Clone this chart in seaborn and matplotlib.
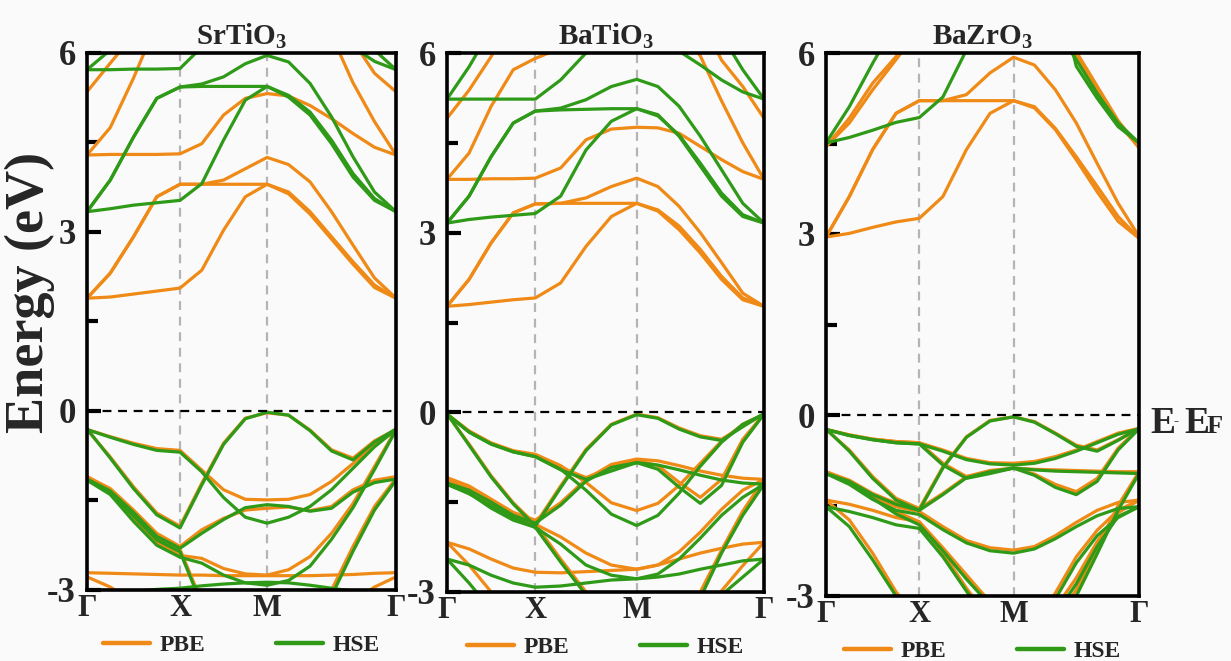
import numpy as np
import pandas as pd
import matplotlib
matplotlib.use("Agg")
import matplotlib.pyplot as plt
import seaborn as sns
from matplotlib.lines import Line2D

# ---------------- data ----------------
MATERIALS = ["SrTiO$_\\mathbf{3}$", "BaTiO$_\\mathbf{3}$", "BaZrO$_\\mathbf{3}$"]
KLABELS = ["Γ", "X", "M", "Γ"]
YTICKS = [-3, 0, 3, 6]
YTICKLABELS = ["-3", "0", "3", "6"]
METHODS = ["PBE", "HSE"]

# k-path node positions (Γ, X, M, Γ) for each panel
STO_NODES = [0.0, 0.5, 0.968, 1.661]
BTO_NODES = [0.0, 0.5, 1.074, 1.795]
BZO_NODES = [0.0, 0.5, 1.005, 1.677]

# energies (eV) sampled at: Γ, 3 pts, X, 3 pts, M, 5 pts, Γ
STO_PBE_CB = [
    [1.89, 1.91, 1.96, 2.01, 2.06, 2.36, 3.03, 3.59, 3.80, 3.67, 3.34, 2.92, 2.50, 2.11, 1.89],
    [1.89, 2.31, 2.92, 3.59, 3.80, 3.80, 3.80, 3.80, 3.80, 3.64, 3.30, 2.88, 2.46, 2.07, 1.89],
    [1.89, 2.31, 2.92, 3.59, 3.80, 3.80, 3.87, 4.06, 4.25, 4.13, 3.84, 3.34, 2.78, 2.23, 1.89],
    [4.29, 4.30, 4.30, 4.30, 4.31, 4.48, 4.96, 5.24, 5.32, 5.28, 5.12, 4.90, 4.65, 4.42, 4.29],
    [4.29, 4.75, 5.58, 6.50, 7.00, 7.50, 7.80, 8.00, 8.00, 7.80, 7.20, 6.30, 5.50, 4.85, 4.29],
    [5.35, 5.83, 6.30, 7.00, 7.40, 7.60, 7.80, 8.00, 8.00, 7.80, 7.40, 6.90, 6.20, 5.66, 5.35],
]
STO_HSE_CB = [
    [3.34, 3.39, 3.45, 3.49, 3.53, 3.81, 4.54, 5.21, 5.44, 5.29, 5.01, 4.54, 3.98, 3.56, 3.34],
    [3.34, 3.87, 4.59, 5.24, 5.43, 5.44, 5.44, 5.44, 5.44, 5.26, 4.96, 4.48, 3.92, 3.53, 3.34],
    [3.34, 3.87, 4.59, 5.24, 5.43, 5.48, 5.60, 5.82, 5.96, 5.85, 5.49, 4.93, 4.26, 3.67, 3.34],
    [5.72, 5.72, 5.73, 5.73, 5.74, 6.10, 6.60, 7.00, 7.20, 7.00, 6.60, 6.30, 6.10, 5.86, 5.72],
    [5.72, 6.05, 6.60, 7.20, 7.60, 7.80, 8.00, 8.00, 8.00, 8.00, 7.80, 7.20, 6.60, 6.05, 5.72],
]
STO_PBE_VB = [
    [-0.31, -0.43, -0.54, -0.63, -0.66, -0.99, -1.32, -1.48, -1.49, -1.48, -1.40, -1.18, -0.88, -0.57, -0.31],
    [-0.31, -0.77, -1.27, -1.71, -1.93, -1.21, -0.54, -0.12, -0.03, -0.07, -0.32, -0.65, -0.79, -0.50, -0.31],
    [-1.10, -1.30, -1.66, -2.05, -2.27, -1.99, -1.80, -1.66, -1.63, -1.61, -1.67, -1.60, -1.32, -1.16, -1.10],
    [-1.10, -1.35, -1.80, -2.20, -2.42, -2.47, -2.64, -2.73, -2.75, -2.66, -2.44, -2.05, -1.55, -0.93, -0.31],
    [-2.71, -2.72, -2.73, -2.74, -2.75, -2.75, -2.76, -2.76, -2.76, -2.76, -2.76, -2.75, -2.74, -2.72, -2.71],
    [-2.78, -2.95, -3.20, -3.45, -3.60, -3.80, -3.90, -4.00, -4.00, -4.00, -3.80, -3.50, -3.20, -2.95, -2.78],
    [-1.10, -1.32, -1.72, -2.12, -2.32, -3.20, -3.80, -4.00, -4.00, -4.00, -3.80, -3.00, -2.27, -1.60, -1.13],
]
STO_HSE_VB = [
    [-0.31, -0.44, -0.56, -0.66, -0.69, -1.02, -1.45, -1.78, -1.88, -1.78, -1.60, -1.32, -0.96, -0.60, -0.31],
    [-0.30, -0.79, -1.30, -1.74, -1.96, -1.24, -0.56, -0.13, -0.02, -0.07, -0.33, -0.67, -0.82, -0.52, -0.30],
    [-1.14, -1.34, -1.70, -2.10, -2.30, -2.05, -1.82, -1.62, -1.57, -1.60, -1.68, -1.63, -1.36, -1.20, -1.14],
    [-1.16, -1.40, -1.85, -2.25, -2.45, -2.55, -2.75, -2.88, -2.92, -2.84, -2.60, -2.15, -1.62, -0.98, -0.32],
    [-3.05, -3.04, -3.02, -2.99, -2.97, -2.93, -2.90, -2.88, -2.87, -2.88, -2.92, -2.97, -3.02, -3.05, -3.06],
    [-1.16, -1.36, -1.76, -2.16, -2.36, -3.25, -3.85, -4.00, -4.00, -4.00, -3.90, -3.10, -2.35, -1.66, -1.16],
]

BTO_PBE_CB = [
    [1.77, 1.80, 1.84, 1.88, 1.91, 2.16, 2.77, 3.27, 3.49, 3.38, 3.11, 2.72, 2.27, 1.91, 1.77],
    [1.77, 2.22, 2.83, 3.33, 3.48, 3.49, 3.49, 3.49, 3.49, 3.36, 3.05, 2.66, 2.22, 1.88, 1.77],
    [1.77, 2.22, 2.83, 3.33, 3.48, 3.49, 3.58, 3.77, 3.91, 3.77, 3.44, 3.00, 2.50, 1.99, 1.77],
    [3.89, 3.89, 3.90, 3.90, 3.91, 4.08, 4.55, 4.73, 4.76, 4.75, 4.66, 4.44, 4.22, 4.02, 3.89],
    [3.89, 4.33, 5.11, 5.72, 5.91, 6.08, 6.40, 6.80, 7.20, 6.80, 6.40, 5.95, 5.20, 4.50, 3.89],
    [4.91, 5.38, 5.94, 6.60, 7.00, 7.30, 7.60, 7.80, 8.00, 7.80, 7.40, 6.60, 5.88, 5.44, 4.91],
]
BTO_HSE_CB = [
    [3.16, 3.22, 3.26, 3.29, 3.32, 3.61, 4.38, 4.86, 5.07, 4.97, 4.61, 4.11, 3.61, 3.27, 3.16],
    [3.16, 3.61, 4.27, 4.83, 5.03, 5.05, 5.06, 5.07, 5.07, 4.95, 4.63, 4.16, 3.66, 3.30, 3.16],
    [3.16, 3.61, 4.27, 4.83, 5.03, 5.08, 5.22, 5.44, 5.56, 5.44, 5.11, 4.61, 4.05, 3.49, 3.16],
    [5.23, 5.23, 5.23, 5.23, 5.23, 5.55, 6.00, 6.50, 6.80, 6.40, 6.03, 5.80, 5.55, 5.35, 5.23],
    [5.23, 5.77, 6.40, 7.00, 7.40, 7.60, 7.80, 8.00, 8.00, 8.00, 7.60, 7.00, 6.30, 5.72, 5.23],
]
BTO_PBE_VB = [
    [-0.03, -0.31, -0.51, -0.64, -0.70, -0.89, -1.17, -1.51, -1.64, -1.52, -1.22, -0.85, -0.48, -0.20, -0.03],
    [-0.03, -0.53, -1.06, -1.51, -1.87, -1.23, -0.62, -0.20, -0.03, -0.09, -0.26, -0.39, -0.45, -0.23, -0.03],
    [-1.09, -1.23, -1.45, -1.67, -1.80, -1.51, -1.12, -0.87, -0.78, -0.81, -0.89, -0.98, -1.05, -1.10, -1.12],
    [-1.12, -1.28, -1.52, -1.75, -1.87, -2.08, -2.35, -2.55, -2.62, -2.55, -2.33, -2.00, -1.62, -1.30, -1.12],
    [-0.03, -0.32, -0.52, -0.65, -0.72, -0.92, -1.09, -0.92, -0.80, -0.89, -1.17, -1.42, -1.12, -0.45, -0.03],
    [-2.17, -2.28, -2.45, -2.60, -2.67, -2.68, -2.66, -2.64, -2.62, -2.55, -2.45, -2.35, -2.27, -2.20, -2.17],
    [-2.17, -2.55, -3.00, -3.40, -3.60, -3.80, -3.90, -4.00, -4.00, -4.00, -3.80, -3.50, -2.98, -2.56, -2.17],
    [-1.12, -1.30, -1.50, -1.72, -1.87, -2.45, -3.00, -3.50, -3.80, -3.70, -3.40, -3.00, -2.30, -1.65, -1.12],
]
BTO_HSE_VB = [
    [-0.03, -0.33, -0.53, -0.66, -0.74, -0.95, -1.30, -1.70, -1.89, -1.72, -1.35, -0.90, -0.50, -0.20, -0.03],
    [-0.02, -0.55, -1.08, -1.53, -1.90, -1.26, -0.64, -0.21, -0.04, -0.10, -0.28, -0.41, -0.47, -0.24, -0.02],
    [-1.18, -1.30, -1.50, -1.72, -1.85, -1.55, -1.15, -0.92, -0.84, -0.88, -0.96, -1.05, -1.13, -1.18, -1.20],
    [-1.20, -1.35, -1.60, -1.80, -1.92, -2.20, -2.55, -2.72, -2.78, -2.70, -2.45, -2.10, -1.72, -1.42, -1.20],
    [-0.03, -0.33, -0.53, -0.66, -0.74, -0.96, -1.12, -0.98, -0.84, -0.95, -1.25, -1.52, -1.22, -0.50, -0.03],
    [-2.45, -2.55, -2.72, -2.85, -2.92, -2.90, -2.85, -2.80, -2.78, -2.75, -2.70, -2.62, -2.55, -2.48, -2.45],
    [-2.45, -2.85, -3.30, -3.60, -3.80, -4.00, -4.00, -4.00, -4.00, -4.00, -3.80, -3.40, -3.05, -2.75, -2.45],
    [-1.20, -1.36, -1.56, -1.76, -1.92, -2.50, -3.05, -3.50, -3.80, -3.70, -3.45, -3.10, -2.35, -1.72, -1.20],
]

BZO_PBE_CB = [
    [2.95, 3.01, 3.11, 3.20, 3.26, 3.62, 4.40, 5.00, 5.21, 5.11, 4.75, 4.28, 3.79, 3.29, 2.93],
    [2.95, 3.62, 4.40, 5.00, 5.21, 5.21, 5.21, 5.21, 5.21, 5.09, 4.73, 4.23, 3.70, 3.21, 2.93],
    [2.95, 3.62, 4.40, 5.00, 5.21, 5.21, 5.31, 5.67, 5.93, 5.80, 5.39, 4.84, 4.17, 3.51, 2.96],
    [4.45, 4.84, 5.39, 5.89, 6.40, 6.90, 7.30, 7.60, 7.80, 7.50, 7.00, 5.94, 5.39, 4.84, 4.43],
    [4.45, 4.92, 5.50, 5.94, 6.50, 7.00, 7.40, 7.70, 7.90, 7.60, 7.10, 6.02, 5.45, 4.88, 4.43],
]
BZO_HSE_CB = [
    [4.51, 4.60, 4.72, 4.85, 4.93, 5.27, 6.05, 6.80, 7.20, 6.90, 6.40, 5.89, 5.33, 4.84, 4.51],
    [4.51, 5.11, 5.83, 6.50, 7.00, 7.30, 7.60, 7.80, 8.00, 7.80, 7.20, 5.78, 5.25, 4.78, 4.51],
]
BZO_PBE_VB = [
    [-0.24, -0.33, -0.40, -0.44, -0.46, -0.58, -0.72, -0.79, -0.80, -0.77, -0.69, -0.58, -0.44, -0.30, -0.22],
    [-0.24, -0.58, -1.02, -1.38, -1.55, -0.86, -0.36, -0.09, -0.03, -0.11, -0.30, -0.50, -0.58, -0.41, -0.22],
    [-0.24, -0.33, -0.40, -0.44, -0.46, -0.80, -1.02, -0.95, -0.88, -0.98, -1.15, -1.27, -1.05, -0.55, -0.22],
    [-0.94, -1.08, -1.30, -1.46, -1.55, -1.30, -1.02, -0.92, -0.88, -0.90, -0.91, -0.92, -0.93, -0.94, -0.94],
    [-0.94, -1.12, -1.35, -1.52, -1.60, -1.85, -2.08, -2.20, -2.24, -2.18, -2.00, -1.78, -1.58, -1.45, -1.41],
    [-1.41, -1.48, -1.58, -1.70, -1.77, -2.29, -2.87, -3.40, -3.80, -3.50, -2.95, -2.35, -1.91, -1.58, -1.41],
    [-1.41, -1.74, -2.29, -2.93, -3.40, -3.80, -4.00, -4.00, -4.00, -3.80, -3.40, -2.90, -2.20, -1.50, -0.94],
    [-0.94, -1.10, -1.35, -1.60, -1.77, -2.20, -2.65, -3.10, -3.70, -3.60, -3.20, -2.70, -2.10, -1.62, -1.41],
]
BZO_HSE_VB = [
    [-0.24, -0.34, -0.41, -0.46, -0.48, -0.60, -0.74, -0.81, -0.83, -0.80, -0.72, -0.60, -0.46, -0.32, -0.23],
    [-0.23, -0.60, -1.05, -1.41, -1.58, -0.88, -0.37, -0.10, -0.03, -0.12, -0.31, -0.52, -0.60, -0.42, -0.22],
    [-0.24, -0.34, -0.41, -0.46, -0.48, -0.83, -1.05, -0.97, -0.88, -1.00, -1.20, -1.32, -1.10, -0.58, -0.23],
    [-0.97, -1.10, -1.32, -1.48, -1.58, -1.32, -1.04, -0.94, -0.88, -0.91, -0.93, -0.94, -0.95, -0.96, -0.97],
    [-0.97, -1.15, -1.40, -1.58, -1.65, -1.90, -2.12, -2.25, -2.29, -2.22, -2.05, -1.85, -1.67, -1.55, -1.52],
    [-1.52, -1.60, -1.70, -1.82, -1.88, -2.35, -2.92, -3.45, -3.80, -3.55, -3.05, -2.45, -2.00, -1.70, -1.52],
    [-1.52, -1.85, -2.40, -3.00, -3.50, -3.90, -4.00, -4.00, -4.00, -3.90, -3.50, -3.00, -2.30, -1.58, -0.97],
    [-0.97, -1.12, -1.38, -1.64, -1.82, -2.25, -2.72, -3.15, -3.70, -3.65, -3.30, -2.80, -2.18, -1.68, -1.52],
]

PANELS = [
    (STO_NODES, STO_PBE_CB + STO_PBE_VB, STO_HSE_CB + STO_HSE_VB),
    (BTO_NODES, BTO_PBE_CB + BTO_PBE_VB, BTO_HSE_CB + BTO_HSE_VB),
    (BZO_NODES, BZO_PBE_CB + BZO_PBE_VB, BZO_HSE_CB + BZO_HSE_VB),
]

# ---------------- style ----------------
ORANGE = "#F08A16"
GREEN = "#2E9A18"
BG = "#FAFAFA"
PALETTE = {"PBE": ORANGE, "HSE": GREEN}

sns.set_theme(style="white")
plt.rcParams["font.family"] = ["Liberation Serif", "DejaVu Serif"]
plt.rcParams["mathtext.fontset"] = "custom"
plt.rcParams["mathtext.rm"] = "Liberation Serif"
plt.rcParams["mathtext.bf"] = "Liberation Serif:bold"

fig = plt.figure(figsize=(12.31, 6.61), dpi=100, facecolor=BG)
W, H = 1231.0, 661.0
# axes boxes in pixels: left, right, top, bottom
BOXES = [(87, 396, 53, 590), (447, 764, 53, 592), (826, 1139, 53, 596)]


def kgrid(nodes):
    a = np.linspace(nodes[0], nodes[1], 5)
    b = np.linspace(nodes[1], nodes[2], 5)[1:]
    c = np.linspace(nodes[2], nodes[3], 7)[1:]
    return np.concatenate([a, b, c])


axes = []
for i, ((nodes, pbe, hse), (l, r, t, b)) in enumerate(zip(PANELS, BOXES)):
    ax = fig.add_axes([l / W, 1 - b / H, (r - l) / W, (b - t) / H])
    ax.set_facecolor(BG)
    axes.append(ax)
    k = kgrid(nodes)
    rows = []
    for method, bands in (("PBE", pbe), ("HSE", hse)):
        for j, band in enumerate(bands):
            for kk, e in zip(k, band):
                rows.append({"k": kk, "E": e, "method": method, "band": f"{method}{j}"})
    df = pd.DataFrame(rows)
    # guides
    for xn in nodes[1:3]:
        ax.axvline(xn, color="#b4b4b4", lw=1.6, ls=(0, (4, 3)), zorder=0)
    sns.lineplot(data=df, x="k", y="E", hue="method", units="band", estimator=None,
                 palette=PALETTE, hue_order=METHODS, sort=False, lw=2.3,
                 legend=False, ax=ax, zorder=2)
    ax.axhline(0, color="black", lw=1.6, ls=(0, (4, 3)), zorder=3)

    ax.set_xlim(nodes[0], nodes[-1])
    ax.set_ylim(-3, 6)
    ax.set_xticks(nodes)
    ax.set_xticklabels(KLABELS, fontsize=22, fontweight="bold")
    ax.set_yticks(YTICKS)
    ax.set_yticklabels(YTICKLABELS, fontsize=25, fontweight="bold")
    ax.set_yticks([-1.5, 1.5, 4.5], minor=True)
    ax.tick_params(axis="y", which="major", direction="in", length=10, width=3,
                   pad=8, left=True, right=False, color="black")
    ax.tick_params(axis="y", which="minor", direction="in", length=8, width=3,
                   left=True, right=False, color="black")
    ax.tick_params(axis="x", which="both", length=0, pad=3)
    for s in ax.spines.values():
        s.set_linewidth(2.6)
        s.set_color("black")
        s.set_zorder(5)
    ax.set_xlabel("")
    ax.set_ylabel("")
    ax.set_title(MATERIALS[i], fontsize=21, fontweight="bold", pad=6)
    handles = [Line2D([0], [0], color=PALETTE[m], lw=3.2) for m in METHODS]
    ax.legend(handles, METHODS, loc="center", ncol=2, frameon=False,
              bbox_to_anchor=(0.5, -55 / (b - t)), handlelength=2.0,
              handletextpad=0.4, columnspacing=3.0,
              prop={"family": "Liberation Serif", "weight": "bold", "size": 17})

fig.text(30 / W, 1 - 292 / H, "Energy (eV)", fontsize=39, fontweight="bold",
         rotation=90, ha="center", va="center")

# E - E_F label
yb = 1 - 433 / H
fig.text(1150 / W, yb, "E", fontsize=27, fontweight="bold", va="baseline")
fig.text(1174 / W, yb + 8 / H, "-", fontsize=11, fontweight="bold", va="baseline")
fig.text(1184 / W, yb, "E", fontsize=27, fontweight="bold", va="baseline")
fig.text(1207 / W, yb, "F", fontsize=19, fontweight="bold", va="baseline")

fig.savefig("out.png", dpi=100, facecolor=BG)
